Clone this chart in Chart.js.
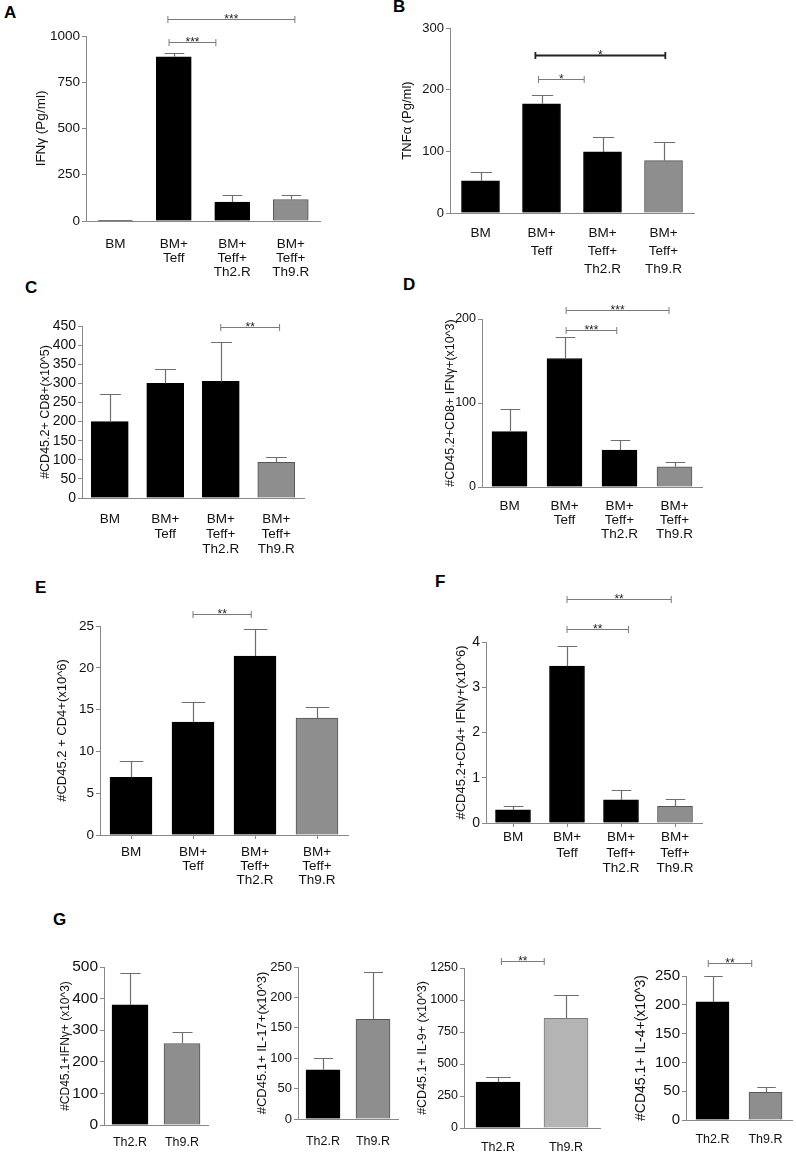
<!DOCTYPE html>
<html><head><meta charset="utf-8">
<script src="https://cdn.jsdelivr.net/npm/chart.js@4.4.1/dist/chart.umd.min.js"></script>
<style>
html,body{margin:0;padding:0;background:#fff;}
#wrap{position:relative;width:796px;height:1152px;overflow:hidden;background:#fff;}
#wrap canvas{position:absolute;left:0;top:0;}
.lbl{position:absolute;font:bold 17px "Liberation Sans",Arial,sans-serif;line-height:17px;color:#000;}
</style></head><body>
<div id="wrap">
<div class="lbl" style="left:4px;top:4px">A</div>
<div class="lbl" style="left:393px;top:-2px">B</div>
<div class="lbl" style="left:25px;top:279px">C</div>
<div class="lbl" style="left:403px;top:276px">D</div>
<div class="lbl" style="left:35px;top:579px">E</div>
<div class="lbl" style="left:435px;top:573px">F</div>
<div class="lbl" style="left:53px;top:911px">G</div>
</div>
<script>
// ---------- DATA ----------
const groups = ['BM', ['BM+','Teff'], ['BM+','Teff+','Th2.R'], ['BM+','Teff+','Th9.R']];
const groupsG = ['Th2.R', 'Th9.R'];

const ifngMean  = [3, 888, 102, 116];      const ifngErr  = [0, 18, 38, 23];
const tnfMean   = [52, 177, 99, 85];       const tnfErr   = [14, 15, 25, 30];
const cd8Mean   = [200, 300, 305, 93];     const cd8Err   = [73, 38, 104, 13];
const cd8IfnMean= [66, 153, 44, 24];       const cd8IfnErr= [27, 25, 12, 6];
const cd4Mean   = [6.9, 13.5, 21.4, 14.0]; const cd4Err   = [2.0, 2.4, 3.2, 1.3];
const cd4IfnMean= [0.29, 3.47, 0.51, 0.37];const cd4IfnErr= [0.08, 0.45, 0.22, 0.15];
const g1Mean = [380, 258]; const g1Err = [102, 37];
const g2Mean = [81, 164];  const g2Err = [20, 78];
const g3Mean = [358, 856]; const g3Err = [44, 186];
const g4Mean = [205, 48];  const g4Err = [45, 9];

// significance brackets: category index (fractional) from/to, value height, label
const sigA = [{from:0.9,to:3.07,y:1092,t:'***'},{from:0.92,to:1.72,y:968,t:'***'}];
const sigB = [{from:0.9,to:3.03,y:256,t:'*',bold:true},{from:0.95,to:1.7,y:217,t:'*'}];
const sigC = [{from:2,to:3.06,y:447,t:'**'}];
const sigD = [{from:1.03,to:2.9,y:211,t:'***'},{from:1.03,to:1.95,y:187,t:'***'}];
const sigE = [{from:1,to:1.94,y:26.4,t:'**'}];
const sigF = [{from:1,to:2.93,y:4.95,t:'**'},{from:1,to:2.14,y:4.29,t:'**'}];
const sigG3 = [{from:0.05,to:0.68,y:1305,t:'**'}];
const sigG4 = [{from:-0.08,to:0.74,y:272,t:'**'}];

// ---------- STYLE ----------
const BLK='#000000', GRY='#8e8e8e', LGRY='#b4b4b4';
const fam = '"Liberation Sans", Arial, Helvetica, sans-serif';
Chart.defaults.font.family = fam;

const deco = {
  id:'deco',
  afterDatasetsDraw(chart, args, o){
    const ctx = chart.ctx, xs = chart.scales.x, ys = chart.scales.y;
    const meta = chart.getDatasetMeta(0);
    const vals = chart.data.datasets[0].data;
    ctx.save();
    ctx.lineCap = 'butt';
    (o.err||[]).forEach((e,i)=>{
      if(!e) return;
      const el = meta.data[i];
      const px = Math.round(el.x)+0.5;
      const yb = ys.getPixelForValue(vals[i]);
      const yt = Math.round(ys.getPixelForValue(vals[i]+e))+0.5;
      const hw = el.width*0.28;
      ctx.strokeStyle = '#6e6e6e'; ctx.lineWidth = 1.2;
      ctx.beginPath();
      ctx.moveTo(px, yb); ctx.lineTo(px, yt);
      ctx.moveTo(px-hw, yt); ctx.lineTo(px+hw, yt);
      ctx.stroke();
    });
    (o.sig||[]).forEach(s=>{
      const x1 = xs.getPixelForValue(s.from), x2 = xs.getPixelForValue(s.to);
      const yy = Math.round(ys.getPixelForValue(s.y))+0.5;
      ctx.strokeStyle = s.bold ? '#222' : '#7a7a7a';
      ctx.lineWidth = s.bold ? 1.8 : 1;
      ctx.beginPath();
      ctx.moveTo(x1, yy); ctx.lineTo(x2, yy);
      ctx.moveTo(x1, yy-3.5); ctx.lineTo(x1, yy+3.5);
      ctx.moveTo(x2, yy-3.5); ctx.lineTo(x2, yy+3.5);
      ctx.stroke();
      ctx.fillStyle = '#222';
      ctx.font = '12px ' + fam;
      ctx.textAlign = 'center'; ctx.textBaseline = 'alphabetic';
      ctx.fillText(s.t, (x1+x2)/2, yy+3);
    });
    ctx.restore();
  }
};

const panels = [
  {labels:groups, mean:ifngMean, err:ifngErr, sig:sigA, colors:[BLK,BLK,BLK,GRY], title:'IFNγ (Pg/ml)',
   L:86, R:320, T:36, B:221, max:1000, step:250, tX:41, tS:13.5, kS:13.5, cS:13.5, lh:14, pad:12, bar:35, xt:false},
  {labels:groups, mean:tnfMean, err:tnfErr, sig:sigB, colors:[BLK,BLK,BLK,GRY], title:'TNFα (Pg/ml)',
   L:450, R:694, T:28, B:213, max:300, step:100, tX:407, tS:13, kS:13, cS:13.5, lh:18, pad:7, bar:38, xt:false},
  {labels:groups, mean:cd8Mean, err:cd8Err, sig:sigC, colors:[BLK,BLK,BLK,GRY], title:'#CD45.2+ CD8+(x10^5)',
   L:82, R:304, T:326, B:498, max:450, step:50, tX:46, tS:12.5, kS:14, cS:13.5, lh:15, pad:9.5, bar:37, xt:false},
  {labels:groups, mean:cd8IfnMean, err:cd8IfnErr, sig:sigD, colors:[BLK,BLK,BLK,GRY], title:'#CD45.2+CD8+ IFNγ+(x10^3)',
   L:482, R:702, T:319, B:487, max:200, step:100, tX:451, tS:12.5, kS:12.5, cS:13.5, lh:14, pad:8, bar:35, xt:false},
  {labels:groups, mean:cd4Mean, err:cd4Err, sig:sigE, colors:[BLK,BLK,BLK,GRY], title:'#CD45.2 + CD4+(x10^6)',
   L:100, R:348, T:626, B:835, max:25, step:5, tX:62, tS:13, kS:13.5, cS:13.5, lh:14, pad:6, bar:42, xt:true},
  {labels:groups, mean:cd4IfnMean, err:cd4IfnErr, sig:sigF, colors:[BLK,BLK,BLK,GRY], title:'#CD45.2+CD4+ IFNγ+(x10^6)',
   L:486, R:702, T:642, B:823, max:4, step:1, tX:461, tS:13, kS:14, cS:13.5, lh:15.5, pad:3, bar:35, xt:true},
  {labels:groupsG, mean:g1Mean, err:g1Err, sig:[], colors:[BLK,GRY], title:'#CD45.1+IFNγ+ (x10^3)',
   L:104, R:208, T:967, B:1125, max:500, step:100, tX:66, tS:12, kS:15.5, cS:12.5, lh:15, pad:6, bar:36, xt:false},
  {labels:groupsG, mean:g2Mean, err:g2Err, sig:[], colors:[BLK,GRY], title:'#CD45.1+ IL-17+(x10^3)',
   L:298, R:398, T:967, B:1119, max:250, step:50, tX:262, tS:13, kS:13, cS:12.5, lh:15, pad:11, bar:34, xt:false},
  {labels:groupsG, mean:g3Mean, err:g3Err, sig:sigG3, colors:[BLK,LGRY], title:'#CD45.1+ IL-9+ (x10^3)',
   L:464, R:600, T:968, B:1128, max:1250, step:250, tX:423, tS:12.5, kS:12.5, cS:12.5, lh:15, pad:8, bar:44, xt:false},
  {labels:groupsG, mean:g4Mean, err:g4Err, sig:sigG4, colors:[BLK,GRY], title:'#CD45.1+ IL-4+(x10^3)',
   L:686, R:792, T:976, B:1120, max:250, step:50, tX:641, tS:14, kS:15, cS:12.5, lh:15, pad:8, bar:33, xt:false}
];

const wrap = document.getElementById('wrap');
const W = 796, H = 1152;
panels.forEach(p=>{
  const cv = document.createElement('canvas');
  cv.width = W; cv.height = H;
  wrap.appendChild(cv);
  const titleLH = p.tS*1.2;
  const padL = p.tX - titleLH/2;
  const borders = p.colors.map(c => c===BLK ? '#000' : (c===LGRY ? '#7a7a7a' : '#555'));
  new Chart(cv, {
    type:'bar',
    data:{labels:p.labels, datasets:[{data:p.mean, backgroundColor:p.colors, borderColor:borders, borderWidth:1, barThickness:p.bar}]},
    options:{
      responsive:false, animation:false, devicePixelRatio:1,
      events:[],
      layout:{padding:{left:padL, top:p.T, right:W-p.R, bottom:0}},
      plugins:{legend:{display:false}, tooltip:{enabled:false}, deco:{err:p.err, sig:p.sig}},
      scales:{
        x:{
          grid:{display:p.xt, drawOnChartArea:false, drawTicks:true, tickLength:4, offset:false, color:'#888', lineWidth:1},
          border:{display:true, color:'#888', width:1},
          ticks:{color:'#111', font:{size:p.cS, lineHeight:p.lh/p.cS}, padding:p.pad, maxRotation:0, minRotation:0, autoSkip:false},
          afterFit(s){ s.height = H - p.B; }
        },
        y:{
          min:0, max:p.max,
          ticks:{stepSize:p.step, color:'#111', font:{size:p.kS}, padding:2, autoSkip:false, callback:(v)=>String(v)},
          grid:{drawOnChartArea:false, drawTicks:true, tickLength:4, color:'#888'},
          border:{display:true, color:'#888', width:1},
          title:{display:true, text:p.title, color:'#111', font:{size:p.tS}, padding:{top:0,bottom:0}},
          afterFit(s){ s.width = p.L - padL; }
        }
      }
    },
    plugins:[deco]
  });
});
</script>
</body></html>
